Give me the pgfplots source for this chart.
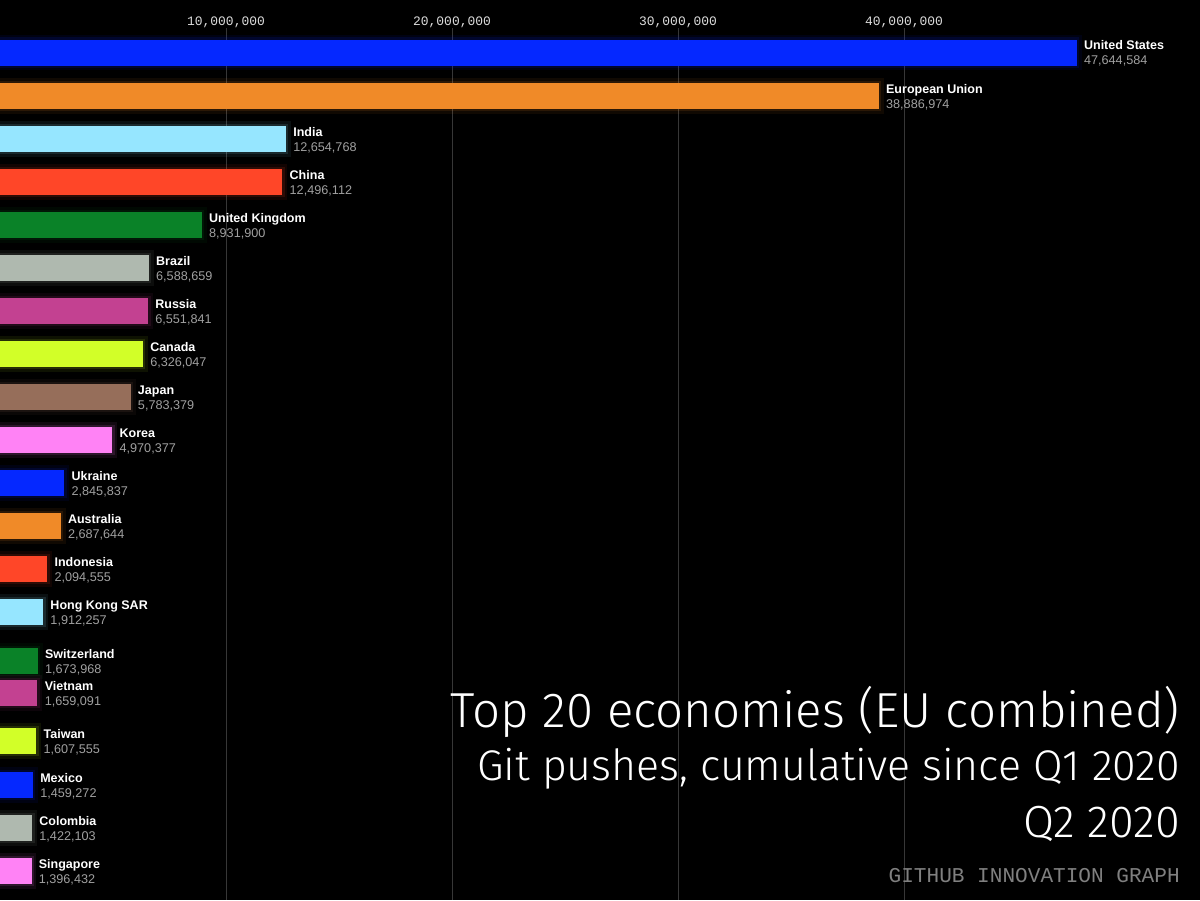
\documentclass[border=0pt]{standalone}
\usepackage{pgfplots}
\pgfplotsset{compat=1.18}
\usepackage{fontspec}
\setmainfont{Liberation Sans}
\newfontfamily\monofont{Liberation Mono}
\newfontfamily\lightfont{Fira Sans Light}
\definecolor{cblue}{RGB}{5,40,255}
\definecolor{corange}{RGB}{240,138,40}
\definecolor{ccyan}{RGB}{150,230,255}
\definecolor{cred}{RGB}{255,70,40}
\definecolor{cgreen}{RGB}{10,130,40}
\definecolor{cgrey}{RGB}{175,185,175}
\definecolor{cmag}{RGB}{195,65,145}
\definecolor{clime}{RGB}{210,255,40}
\definecolor{cbrown}{RGB}{150,110,90}
\definecolor{cpink}{RGB}{255,130,245}
\definecolor{valgrey}{RGB}{160,160,160}
\definecolor{tickgrey}{RGB}{220,220,220}
\definecolor{gridgrey}{RGB}{55,55,55}
\tikzset{glow/.style={fill=#1, draw=none,
  preaction={draw=#1, draw opacity=0.07, line width=7pt},
  preaction={draw=#1, draw opacity=0.12, line width=3.5pt}}}
\tikzset{nm/.style={anchor=base west, text=white, xshift=1.75mm, inner sep=0pt,
  font=\bfseries\fontsize{8.9}{10}\selectfont},
  vl/.style={anchor=base west, text=valgrey, xshift=1.75mm, inner sep=0pt,
  font=\fontsize{9}{10}\selectfont}}
\begin{document}
\begin{tikzpicture}
\fill[black] (0,0) rectangle (300mm,225mm);
\begin{axis}[
  at={(0,0)}, anchor=south west,
  scale only axis, width=300mm, height=218mm,
  xmin=0, xmax=53097345, ymin=28, ymax=900, y dir=reverse,
  xbar, bar shift=0pt, bar width=26,
  axis line style={draw=none}, tick style={draw=none},
  xtick={10000000,20000000,30000000,40000000}, xticklabels={},
  ytick=\empty, scaled x ticks=false,
  xmajorgrids, grid style={gridgrey, line width=0.6pt},
  clip=false,
]
\addplot[glow=cblue] coordinates {(47644584,52.5)};
\addplot[glow=corange] coordinates {(38886974,96)};
\addplot[glow=ccyan] coordinates {(12654768,139)};
\addplot[glow=cred] coordinates {(12496112,182)};
\addplot[glow=cgreen] coordinates {(8931900,225)};
\addplot[glow=cgrey] coordinates {(6588659,268)};
\addplot[glow=cmag] coordinates {(6551841,311)};
\addplot[glow=clime] coordinates {(6326047,354)};
\addplot[glow=cbrown] coordinates {(5783379,397)};
\addplot[glow=cpink] coordinates {(4970377,440)};
\addplot[glow=cblue] coordinates {(2845837,483)};
\addplot[glow=corange] coordinates {(2687644,526)};
\addplot[glow=cred] coordinates {(2094555,569)};
\addplot[glow=ccyan] coordinates {(1912257,612)};
\addplot[glow=cgreen] coordinates {(1673968,661)};
\addplot[glow=cmag] coordinates {(1659091,693)};
\addplot[glow=clime] coordinates {(1607555,741)};
\addplot[glow=cblue] coordinates {(1459272,785)};
\addplot[glow=cgrey] coordinates {(1422103,828)};
\addplot[glow=cpink] coordinates {(1396432,871)};

\foreach \v/\t in {10000000/{10,000,000},20000000/{20,000,000},30000000/{30,000,000},40000000/{40,000,000}}{
  \edef\tmp{\noexpand\node[anchor=base, text=tickgrey, inner sep=0pt, font=\noexpand\monofont\noexpand\fontsize{9.2}{10}\noexpand\selectfont] at (axis cs:\v,25) {\t};}\tmp
}

\node[nm] at (axis cs:47644584,49.5) {United States};
\node[vl] at (axis cs:47644584,64.5) {47,644,584};
\node[nm] at (axis cs:38886974,93) {European Union};
\node[vl] at (axis cs:38886974,108) {38,886,974};
\node[nm] at (axis cs:12654768,136) {India};
\node[vl] at (axis cs:12654768,151) {12,654,768};
\node[nm] at (axis cs:12496112,179) {China};
\node[vl] at (axis cs:12496112,194) {12,496,112};
\node[nm] at (axis cs:8931900,222) {United Kingdom};
\node[vl] at (axis cs:8931900,237) {8,931,900};
\node[nm] at (axis cs:6588659,265) {Brazil};
\node[vl] at (axis cs:6588659,280) {6,588,659};
\node[nm] at (axis cs:6551841,308) {Russia};
\node[vl] at (axis cs:6551841,323) {6,551,841};
\node[nm] at (axis cs:6326047,351) {Canada};
\node[vl] at (axis cs:6326047,366) {6,326,047};
\node[nm] at (axis cs:5783379,394) {Japan};
\node[vl] at (axis cs:5783379,409) {5,783,379};
\node[nm] at (axis cs:4970377,437) {Korea};
\node[vl] at (axis cs:4970377,452) {4,970,377};
\node[nm] at (axis cs:2845837,480) {Ukraine};
\node[vl] at (axis cs:2845837,495) {2,845,837};
\node[nm] at (axis cs:2687644,523) {Australia};
\node[vl] at (axis cs:2687644,538) {2,687,644};
\node[nm] at (axis cs:2094555,566) {Indonesia};
\node[vl] at (axis cs:2094555,581) {2,094,555};
\node[nm] at (axis cs:1912257,609) {Hong Kong SAR};
\node[vl] at (axis cs:1912257,624) {1,912,257};
\node[nm] at (axis cs:1673968,658) {Switzerland};
\node[vl] at (axis cs:1673968,673) {1,673,968};
\node[nm] at (axis cs:1659091,690) {Vietnam};
\node[vl] at (axis cs:1659091,705) {1,659,091};
\node[nm] at (axis cs:1607555,738) {Taiwan};
\node[vl] at (axis cs:1607555,753) {1,607,555};
\node[nm] at (axis cs:1459272,782) {Mexico};
\node[vl] at (axis cs:1459272,797) {1,459,272};
\node[nm] at (axis cs:1422103,825) {Colombia};
\node[vl] at (axis cs:1422103,840) {1,422,103};
\node[nm] at (axis cs:1396432,868) {Singapore};
\node[vl] at (axis cs:1396432,883) {1,396,432};
\end{axis}
\node[anchor=base east, text=white, inner sep=0pt, font=\lightfont\fontsize{35}{40}\selectfont] at (295mm,43.25mm) {Top 20 economies (EU combined)};
\node[anchor=base east, text=white, inner sep=0pt, font=\lightfont\fontsize{30.5}{34}\selectfont] at (295mm,30mm) {Git pushes, cumulative since Q1 2020};
\node[anchor=base east, text=white, inner sep=0pt, font=\lightfont\fontsize{32}{36}\selectfont] at (295mm,15.75mm) {Q2 2020};
\node[anchor=base east, text=gray, inner sep=0pt, font=\monofont\fontsize{15}{17}\selectfont] at (295mm,4.5mm) {GITHUB INNOVATION GRAPH};
\pgfresetboundingbox
\useasboundingbox (0,0) rectangle (300mm,225mm);
\end{tikzpicture}
\end{document}
